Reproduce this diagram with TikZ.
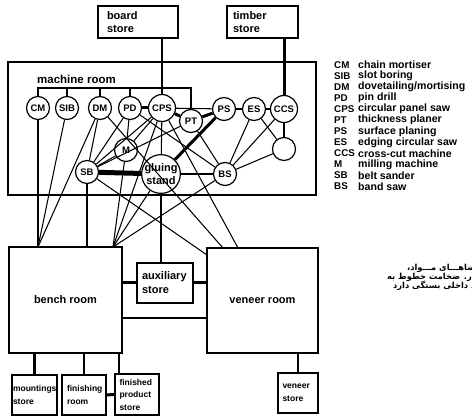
\documentclass[tikz,border=0pt]{standalone}
\usepackage{fontspec}
\setmainfont{Liberation Sans}
\newfontfamily\farsifont[Script=Arabic]{DejaVu Sans}
\TeXXeTstate=1
\usetikzlibrary{positioning}

\begin{document}
\begin{tikzpicture}[x=1pt,y=-1pt,
    link/.style={line width=1.05pt},
    heavy/.style={line width=3pt},
    box/.style={draw, line width=1.2pt, inner sep=0pt, align=left,
        font=\bfseries\fontsize{11}{12.5}\selectfont},
    smallbox/.style={box, font=\bfseries\fontsize{8.5}{12.5}\selectfont},
    mc/.style={draw, circle, line width=1.2pt, fill=white, inner sep=0pt,
        minimum size=23pt, font=\bfseries\fontsize{9.5}{10}\selectfont},
    legend/.style={anchor=west, inner sep=0pt, font=\bfseries\fontsize{10.6}{11}\selectfont},
    abbr/.style={legend, font=\bfseries\fontsize{9.8}{11}\selectfont},
    note/.style={anchor=west, inner sep=0pt, font=\farsifont\bfseries\fontsize{8.3}{9}\selectfont}]

\useasboundingbox (0,0) rectangle (472,417);

% stores above the machine room
\node[box, minimum width=80pt, minimum height=32pt, text width=62pt] (board) at (138,22) {board\\store};
\node[box, minimum width=71pt, minimum height=32pt, text width=59pt] (timber) at (262.5,22) {timber\\store};

% machine room
\node[draw, line width=1.2pt, minimum width=308pt, minimum height=133pt] (machine) at (162,128.5) {};
\node[anchor=west, inner sep=0pt, font=\bfseries\fontsize{11.5}{12}\selectfont] (mlabel) at (37,79) {machine room};

\node[mc] (CM) at (38,108) {CM};
\node[mc] (SIB) at (67,108) {SIB};
\node[mc] (DM) at (100,108) {DM};
\node[mc] (PD) at (130,108) {PD};
\node[mc, minimum size=27pt] (CPS) at (162,108) {CPS};
\node[mc] (PT) at (191,121) {PT};
\node[mc] (PS) at (224,109) {PS};
\node[mc] (ES) at (254,109) {ES};
\node[mc, minimum size=27pt] (CCS) at (284,109) {CCS};
\node[mc] (empty) at (284,149) {};
\node[mc] (M) at (126,150) {M};
\node[mc] (SB) at (87,172) {SB};
\node[mc, minimum size=38pt, align=center, font=\bfseries\fontsize{11}{12.5}\selectfont] (glue) at (161,174) {gluing\\stand};
\node[mc] (BS) at (225,174) {BS};

% rooms and stores below
\node[box, align=center, minimum width=113pt, minimum height=106pt] (bench) at (65.5,300) {bench room};
\node[box, minimum width=56pt, minimum height=40pt, text width=46pt, font=\bfseries\fontsize{11}{14}\selectfont] (aux) at (165,283) {auxiliary\\store};
\node[box, align=center, minimum width=111pt, minimum height=105pt] (veneer) at (262.5,300.5) {veneer room};
\node[smallbox, minimum width=45pt, minimum height=40pt, text width=43pt] (mount) at (34.5,395) {mountings\\store};
\node[smallbox, minimum width=44pt, minimum height=40pt, text width=34pt] (finish) at (84,395) {finishing\\room};
\node[smallbox, minimum width=44pt, minimum height=41pt, text width=35pt] (product) at (137,394.5) {finished\\product\\store};
\node[smallbox, minimum width=40pt, minimum height=40pt, text width=31pt] (vstore) at (298,393) {veneer\\store};

% ends of the links on the room walls
\coordinate (brk) at (0,88);
\coordinate (bnw) at (38,247);
\coordinate (bne) at (113,247);
\coordinate (vw) at (207,255);
\coordinate (vn1) at (223,248);
\coordinate (vn2) at (238,248);

% bracket over the machines
\draw[link] (CM) -- (CM |- brk) -| (PT);
\foreach \m in {SIB,DM,PD}
    \draw[link] (\m) -- (\m |- brk);

% stores to machines
\draw[link] (board.south -| CPS) -- (CPS);
\draw[heavy] (timber.south -| CCS) -- (CCS);

% links between machines
\foreach \a/\b in {CPS/PS, CCS/empty, ES/empty, ES/BS, CCS/BS, empty/BS, PT/BS, PD/BS,
                   CPS/glue, CPS/M, CPS/SB, PD/M, PD/SB, DM/SB, M/SB, PT/SB, glue/BS}
    \draw[link] (\a) -- (\b);
\foreach \a/\b in {PD/CPS, CPS/PT, PT/PS, PS/glue}
    \draw[heavy] (\a) -- (\b);
\draw[line width=1.8pt] (PS) -- (ES) -- (CCS);
\draw[line width=5pt] (SB) -- (glue);

% machines to rooms
\foreach \m in {CM,SIB,DM}
    \draw[link] (\m) -- (bnw);
\foreach \m in {M,CPS,glue,BS}
    \draw[link] (\m) -- (bne);
\draw[line width=1.8pt] (SB) -- (SB |- bench.north);
\draw[link] (SB) -- (vw);
\draw[link] (DM) -- (vn1);
\draw[link] (CPS) -- (vn2);
\draw[link] (glue) -- (glue |- aux.north);

% rooms to rooms
\draw[heavy] (aux.west) -- (aux.west -| bench.east);
\draw[heavy] (aux.east) -- (aux.east -| veneer.west);
\draw[link] ([yshift=-18pt]bench.east) -- ([yshift=-18pt]bench.east -| veneer.west);
\draw[heavy] (mount.north) -- (mount.north |- bench.south);
\draw[link] (finish.north) -- (finish.north |- bench.south);
\draw[link] ([xshift=-18pt]product.north) -- ([xshift=-18pt]product.north |- bench.south);
\draw[heavy] (finish.east) -- (product.west);
\draw[link] (vstore.north) -- (vstore.north |- veneer.south);

% legend
\foreach \ab/\txt [count=\i from 0] in {CM/chain mortiser, SIB/slot boring,
        DM/{dovetailing/mortising}, PD/pin drill, CPS/circular panel saw,
        PT/thickness planer, PS/surface planing, ES/edging circular saw,
        CCS/cross-cut machine, M/milling machine, SB/belt sander, BS/band saw} {
    \node[abbr] (ab\i) at (334,65+11.05*\i) {\ab};
    \node[legend] (tx\i) at (358,65+11.05*\i) {\txt};
}

% note in Persian
\node[note] (note1) at (407,268) {\beginR فاصلهٔ میان فضاهـــای مـــواد،\endR};
\node[note] (note2) at (387,277) {\beginR آلات و کار. ضخامت خطوط به\endR};
\node[note] (note3) at (393,286) {\beginR رفت و آمد داخلی بستگی دارد\endR};
\end{tikzpicture}
\end{document}
